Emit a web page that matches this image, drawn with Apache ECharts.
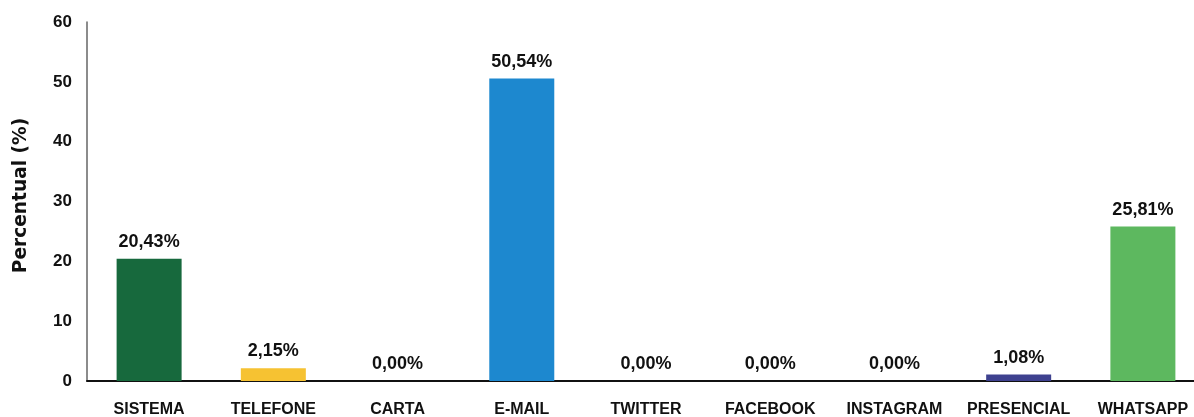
<!DOCTYPE html>
<html>
<head>
<meta charset="utf-8">
<script src="https://cdn.jsdelivr.net/npm/echarts@6/dist/echarts.min.js"></script>
<style>
html,body{margin:0;padding:0;background:#fff;}
#chart{width:1194px;height:417px;}
</style>
</head>
<body>
<div id="chart"></div>
<script>
const categories = ['SISTEMA','TELEFONE','CARTA','E-MAIL','TWITTER','FACEBOOK','INSTAGRAM','PRESENCIAL','WHATSAPP'];
const percentValues = [20.43, 2.15, 0.00, 50.54, 0.00, 0.00, 0.00, 1.08, 25.81];
const barColors = ['#17693d','#f6c232','#888888','#1d88cf','#888888','#888888','#888888','#3e418f','#5db85f'];
const yTicks = [0, 10, 20, 30, 40, 50, 60];

const chart = echarts.init(document.getElementById('chart'), null, {renderer:'canvas'});
const fontMain = '"Liberation Sans", Arial, sans-serif';
chart.setOption({
  animation: false,
  grid: {left: 87, right: -11, top: 22, bottom: 36, containLabel: false, outerBoundsMode: 'none'},
  xAxis: {
    type: 'category',
    data: categories,
    axisLine: {show: true, lineStyle: {color: '#111', width: 2}},
    axisTick: {show: false},
    axisLabel: {
      interval: 0, margin: 21,
      color: '#111', fontWeight: 'bold', fontSize: 16, fontFamily: fontMain
    }
  },
  yAxis: {
    type: 'value',
    min: yTicks[0], max: yTicks[yTicks.length-1], interval: 10,
    name: 'Percentual (%)',
    nameLocation: 'middle',
    nameGap: 56,
    nameTextStyle: {
      color: '#111', fontWeight: 'bold', fontSize: 18.6,
      fontFamily: '"DejaVu Sans", sans-serif', padding: [0, 0, 0, 12]
    },
    axisLine: {show: true, lineStyle: {color: '#666', width: 1.5}},
    axisTick: {show: false},
    splitLine: {show: false},
    axisLabel: {
      margin: 15, color: '#111', fontWeight: 'bold', fontSize: 17, fontFamily: fontMain
    }
  },
  series: [{
    type: 'bar',
    barWidth: 65,
    data: percentValues.map((v, i) => ({value: v, itemStyle: {color: barColors[i]}})),
    label: {
      show: true,
      position: 'top',
      distance: 8,
      color: '#111', fontWeight: 'bold', fontSize: 18, fontFamily: fontMain,
      formatter: p => p.value.toFixed(2).replace('.', ',') + '%'
    }
  }]
});
</script>
</body>
</html>
